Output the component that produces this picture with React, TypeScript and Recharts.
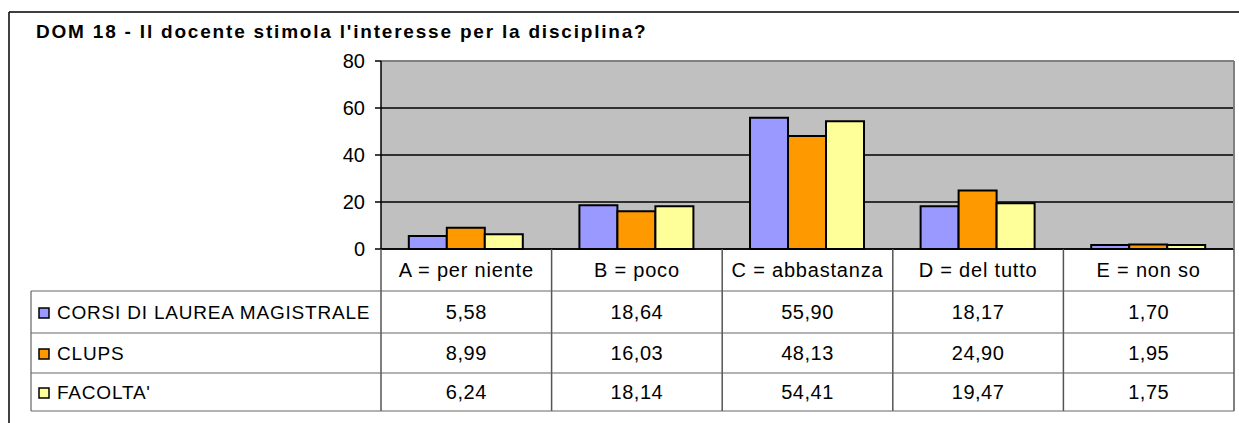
import React from 'react';
import { BarChart, Bar, XAxis, YAxis, CartesianGrid, ReferenceLine } from 'recharts';

const title = "DOM 18 - Il docente stimola l'interesse per la disciplina?";
const categories = ['A = per niente', 'B = poco', 'C = abbastanza', 'D = del tutto', 'E = non so'];
const seriesNames = ['CORSI DI LAUREA MAGISTRALE', 'CLUPS', "FACOLTA'"];
const seriesColors = ['#9999FF', '#FF9900', '#FFFF99'];
const corsiValues = [5.58, 18.64, 55.9, 18.17, 1.7];
const clupsValues = [8.99, 16.03, 48.13, 24.9, 1.95];
const facoltaValues = [6.24, 18.14, 54.41, 19.47, 1.75];
const yTicks = [0, 20, 40, 60, 80];

const seriesValues = [corsiValues, clupsValues, facoltaValues];
const data = categories.map((c, i) => ({
  cat: c,
  s0: corsiValues[i],
  s1: clupsValues[i],
  s2: facoltaValues[i],
}));

const W = 1239;
const H = 423;
const PLOT_L = 381;
const PLOT_R = 1234;
const PLOT_T = 61;
const PLOT_B = 249;
const ROWS = [249, 291, 333, 373, 411];
const LEG_L = 31;
const FONT = '"Liberation Sans", Arial, sans-serif';
const COLW = (PLOT_R - PLOT_L) / categories.length;

const fmt = (v: number) => v.toFixed(2).replace('.', ',');

const ColumnTick = (props: any) => {
  const { x, index, payload } = props;
  const left = x - COLW / 2;
  const right = x + COLW / 2;
  return (
    <g>
      {index === 0 && <line x1={left} y1={PLOT_B} x2={left} y2={ROWS[4]} stroke="#555" strokeWidth={1.5} />}
      <line x1={right} y1={PLOT_B} x2={right} y2={ROWS[4]} stroke="#555" strokeWidth={1.5} />
      <text x={x} y={(ROWS[0] + ROWS[1]) / 2} textAnchor="middle" dominantBaseline="central" fontSize={20} letterSpacing={0.8} fontFamily={FONT} fill="#000">
        {payload.value}
      </text>
      {seriesValues.map((vals, r) => (
        <text key={r} x={x} y={(ROWS[r + 1] + ROWS[r + 2]) / 2} textAnchor="middle" dominantBaseline="central" fontSize={20} letterSpacing={0.5} fontFamily={FONT} fill="#000">
          {fmt(vals[index])}
        </text>
      ))}
    </g>
  );
};

export default function App() {
  return (
    <div style={{ position: 'absolute', left: 0, top: 0, width: W, height: H, background: '#fff' }}>
      <BarChart
        width={W}
        height={H}
        data={data}
        margin={{ top: PLOT_T, right: W - PLOT_R, bottom: 144, left: 0 }}
        barCategoryGap="16.3%"
        barGap={0}
      >
        <CartesianGrid vertical={false} fill="#C0C0C0" stroke="#000" strokeWidth={1.5} fillOpacity={1} />
        <XAxis
          dataKey="cat"
          height={30}
          axisLine={{ stroke: '#000', strokeWidth: 1.5 }}
          tickLine={false}
          tick={<ColumnTick />}
          interval={0}
        />
        <YAxis
          width={PLOT_L}
          domain={[0, 80]}
          ticks={yTicks}
          axisLine={{ stroke: '#000', strokeWidth: 1.5 }}
          tickLine={{ stroke: '#000', strokeWidth: 1.5 }}
          tickSize={6}
          tickMargin={10}
          tick={{ fontSize: 20, fontFamily: FONT, fill: '#000' }}
        />
        <ReferenceLine y={80} stroke="#808080" strokeWidth={2} />
        {seriesNames.map((n, i) => (
          <Bar
            key={n}
            dataKey={`s${i}`}
            name={n}
            fill={seriesColors[i]}
            stroke="#000"
            strokeWidth={2}
            isAnimationActive={false}
          />
        ))}
      </BarChart>
      <svg width={W} height={H} style={{ position: 'absolute', left: 0, top: 0, pointerEvents: 'none' }}>
        <line x1={9} y1={12} x2={W} y2={12} stroke="#000" strokeWidth={1.5} />
        <line x1={9} y1={12} x2={9} y2={H} stroke="#000" strokeWidth={1.5} />
        <line x1={PLOT_R} y1={PLOT_T} x2={PLOT_R} y2={PLOT_B} stroke="#808080" strokeWidth={2} />
        <text x={36} y={38} fontSize={19} fontWeight="bold" letterSpacing={1.8} fontFamily={FONT} fill="#000">{title}</text>
        {ROWS.slice(1).map((y) => (
          <line key={y} x1={LEG_L} y1={y} x2={PLOT_R} y2={y} stroke="#666" strokeWidth={1.2} />
        ))}
        <line x1={LEG_L} y1={ROWS[1]} x2={LEG_L} y2={ROWS[4]} stroke="#666" strokeWidth={1.2} />
        {seriesNames.map((n, r) => {
          const cy = (ROWS[r + 1] + ROWS[r + 2]) / 2;
          return (
            <g key={n}>
              <rect x={39} y={cy - 4} width={10} height={10} fill={seriesColors[r]} stroke="#000" strokeWidth={1.5} />
              <text x={57} y={cy} dominantBaseline="central" fontSize={19} letterSpacing={0.8} fontFamily={FONT} fill="#000">{n}</text>
            </g>
          );
        })}
      </svg>
    </div>
  );
}
